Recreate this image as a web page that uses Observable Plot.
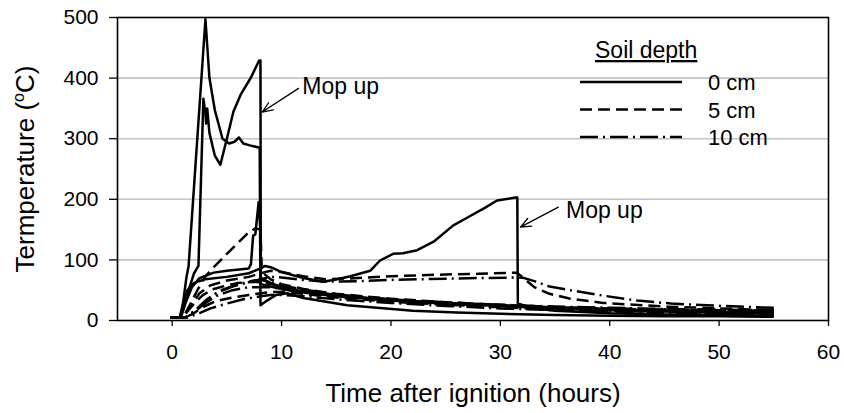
<!DOCTYPE html>
<html><head><meta charset="utf-8">
<script src="https://cdn.jsdelivr.net/npm/d3@7"></script>
<script src="https://cdn.jsdelivr.net/npm/@observablehq/plot@0.6"></script>
<style>
html,body{margin:0;padding:0;background:#fff;}
#chart{width:844px;height:413px;}
</style></head><body><div id="chart"></div>
<script>
// ---- labels & ticks ----
const depths = ["0 cm", "5 cm", "10 cm"];
const xTicks = [0, 10, 20, 30, 40, 50, 60];
const yTicks = [0, 100, 200, 300, 400, 500];
const gridValues = [100, 200, 300, 400];
const xTitle = "Time after ignition (hours)";
const yTitleParts = ["Termperature (", "o", "C)"];
const legendTitle = "Soil depth";

// ---- annotations ----
const mopLabels = ["Mop up", "Mop up"];
const mopTextX = [11.9, 36.0];
const mopTextY = [386, 181];
const mopArrowX1 = [11.55, 35.3];
const mopArrowY1 = [383, 187];
const mopArrowX2 = [8.23, 31.84];
const mopArrowY2 = [344, 154];

// ---- series: [hours, °C] ----
const site1_0cm = [[-0.2,5],[0.7,5],[1.0,30],[1.3,71],[1.5,90],[3.04,497],[3.4,401],[3.9,347],[4.6,300],[5.2,292],[5.7,295],[6.1,302],[6.5,292],[7.1,289],[8.0,285],[8.07,25],[8.6,32],[9.5,42],[10.5,45],[12,37],[16,25],[22,16],[26,13],[30,11],[35,9],[40,8],[45,7],[50,7],[55,6]];
const site2_0cm = [[-0.2,5],[0.7,5],[1.0,18],[1.5,50],[2.0,78],[2.4,90],[2.85,366],[3.05,340],[3.1,325],[3.2,350],[3.4,310],[3.9,272],[4.4,257],[5.0,300],[5.6,345],[6.3,374],[7.2,401],[7.95,429],[8.07,429],[8.1,60],[9,56],[10,52],[12,46],[15,40],[20,33],[25,28],[30,24],[35,20],[40,17],[45,15],[50,13],[55,12]];
const site3_0cm = [[-0.2,5],[0.8,5],[1.2,28],[1.8,55],[2.5,70],[3.8,79],[5,82],[7.0,86],[7.2,93],[7.4,140],[7.6,142],[7.9,195],[8.07,150],[8.1,70],[9,62],[10,55],[12,48],[15,41],[20,34],[25,29],[30,25],[35,21],[40,18],[45,16],[50,14],[55,13]];
const site4_0cm = [[-0.2,5],[0.7,5],[1.0,25],[1.4,50],[2.0,62],[3,68],[5,72],[7,78],[8.07,86],[8.5,90],[9,88],[10,80],[12,70],[13.8,64],[15.1,68],[16.3,73],[18.1,82],[19,99],[20.2,110],[21.1,111],[22.4,116],[23.9,130],[25.7,157],[27,170],[28.5,185],[29.7,198],[31.4,203],[31.55,203],[31.6,28],[33,20],[35,16],[40,12],[45,10],[50,9],[55,8]];

const site1_5cm = [[-0.2,5],[0.9,5],[1.4,15],[2.0,28],[2.8,42],[3.8,52],[5,58],[6,62],[7.5,64],[8.07,63],[9,60],[10,56],[12,50],[15,42],[20,34],[25,29],[30,25],[35,22],[40,19],[45,17],[50,16],[55,15]];
const site2_5cm = [[-0.2,5],[1.0,5],[1.6,25],[2.3,50],[3.0,72],[3.8,88],[5,110],[6.85,143],[7.6,152],[8.07,150],[8.2,80],[9,68],[10,60],[12,52],[15,44],[20,36],[25,30],[30,26],[35,22],[40,20],[45,18],[50,17],[55,16]];
const site3_5cm = [[-0.2,5],[1.1,5],[1.8,10],[2.8,22],[4,32],[5.5,38],[7,42],[8.07,45],[9,47],[10,47],[12,44],[15,38],[20,31],[25,26],[30,22],[35,18],[40,16],[45,14],[50,12],[55,11]];
const site4_5cm = [[-0.2,5],[1.0,5],[1.5,20],[2.5,45],[3.5,58],[5,66],[7,72],[8.07,78],[9,82],[10,80],[12,73],[14,68],[17,70],[20,73],[25,76],[28,77],[31.5,79],[32,72],[33.1,55],[34.5,44],[36.4,36],[39.4,29],[45,23],[50,20],[55,17]];

const site1_10cm = [[-0.2,5],[1.2,5],[2,14],[3,28],[4,40],[5.5,50],[7,55],[8.07,55],[9,55],[10,52],[12,47],[15,40],[20,33],[25,28],[30,24],[35,21],[40,19],[45,18],[50,17],[55,16]];
const site2_10cm = [[-0.2,5],[1.2,5],[2.2,18],[3.2,35],[4.5,50],[6,60],[7.5,66],[8.07,67],[9,63],[10,58],[12,51],[15,43],[20,35],[25,30],[30,26],[35,23],[40,21],[45,19],[50,18],[55,17]];
const site3_10cm = [[-0.2,5],[1.4,5],[2.5,12],[3.5,20],[5,28],[6.5,35],[8.07,40],[9,42],[10,42],[12,40],[15,35],[20,29],[25,24],[30,20],[35,17],[40,15],[45,13],[50,11],[55,10]];
const site4_10cm = [[-0.2,5],[1.2,5],[2,15],[3,32],[4,45],[5.5,56],[7,63],[8.07,68],[9,72],[10,71],[12,67],[14,64],[17,65],[20,67],[25,69],[28,70],[31.5,71],[32.2,70],[33.1,65],[34.5,56],[36.4,50],[39.4,41],[42.5,33],[45.6,28],[48.9,25],[53.2,22],[55,21]];

const seriesList = [
  ["site1", "0 cm", site1_0cm], ["site2", "0 cm", site2_0cm], ["site3", "0 cm", site3_0cm], ["site4", "0 cm", site4_0cm],
  ["site1", "5 cm", site1_5cm], ["site2", "5 cm", site2_5cm], ["site3", "5 cm", site3_5cm], ["site4", "5 cm", site4_5cm],
  ["site1", "10 cm", site1_10cm], ["site2", "10 cm", site2_10cm], ["site3", "10 cm", site3_10cm], ["site4", "10 cm", site4_10cm]
];

// ---- styles ----
const FONT = "'Liberation Sans', Arial, sans-serif";
const dashFor = {"0 cm": null, "5 cm": "12,6", "10 cm": "18,5,2,5"};
const LINE_W = 2.5;

const rows = seriesList.flatMap(([site, depth, pts]) =>
  pts.map(([t, v]) => ({site, depth, key: site + "|" + depth, t, v})));

const annotations = mopLabels.map((label, i) => ({
  label, tx: mopTextX[i], ty: mopTextY[i],
  x1: mopArrowX1[i], y1: mopArrowY1[i], x2: mopArrowX2[i], y2: mopArrowY2[i]
}));

const lineMarks = depths.map(d => Plot.line(rows.filter(r => r.depth === d), {
  x: "t", y: "v", z: "key", stroke: "#000", strokeWidth: LINE_W,
  strokeDasharray: dashFor[d] || undefined, strokeLinejoin: "round", strokeLinecap: "butt"
}));

const chart = Plot.plot({
  width: 844, height: 413,
  marginLeft: 117, marginRight: 16, marginTop: 17, marginBottom: 93,
  style: {fontFamily: FONT, fontSize: "21px", background: "#fff", color: "#000", overflow: "visible"},
  x: {domain: [-5, 60], axis: null},
  y: {domain: [0, 500], axis: null},
  marks: [
    Plot.ruleY(gridValues, {stroke: "#c3c3c3", strokeWidth: 1.6}),
    ...lineMarks,
    Plot.frame({stroke: "#000", strokeWidth: 1.6}),
    Plot.axisX(xTicks, {tickSize: 6, tickPadding: 18, stroke: "#000", strokeWidth: 1.3, label: null, fontSize: 21}),
    Plot.axisY(yTicks, {tickSize: 8, tickPadding: 11, stroke: "#000", strokeWidth: 1.3, label: null, fontSize: 21}),
    Plot.arrow(annotations, {x1: "x1", y1: "y1", x2: "x2", y2: "y2", stroke: "#000", strokeWidth: 1.3, headLength: 13, headAngle: 45}),
    Plot.text(annotations, {x: "tx", y: "ty", text: "label", textAnchor: "start", fontSize: 23, fill: "#000"}),
    Plot.text([xTitle], {frameAnchor: "bottom", lineAnchor: "middle", dy: 73, fontSize: 26, fill: "#000"})
  ]
});

document.getElementById("chart").appendChild(chart);

// ---- y title with superscript, and legend ----
const svg = d3.select(chart);
const yt = svg.append("text")
  .attr("transform", "translate(34,169) rotate(-90)")
  .attr("text-anchor", "middle")
  .attr("font-size", 26).attr("font-family", FONT).attr("fill", "#000");
yt.append("tspan").text(yTitleParts[0]);
yt.append("tspan").attr("font-size", 16).attr("dy", -10).text(yTitleParts[1]);
yt.append("tspan").attr("dy", 10).text(yTitleParts[2]);

const lg = svg.append("g").attr("font-family", FONT).attr("fill", "#000").attr("text-anchor", "start");
lg.append("text").attr("x", 595).attr("y", 58).attr("font-size", 23).attr("text-anchor", "start")
  .attr("text-decoration", "underline").text(legendTitle);
depths.forEach((d, i) => {
  const y = 82 + i * 27.5;
  lg.append("line").attr("x1", 580).attr("x2", 682).attr("y1", y).attr("y2", y)
    .attr("stroke", "#000").attr("stroke-width", LINE_W)
    .attr("stroke-dasharray", dashFor[d] || null);
  lg.append("text").attr("x", 708).attr("y", y + 8).attr("font-size", 22).attr("text-anchor", "start").text(d);
});
</script></body></html>
